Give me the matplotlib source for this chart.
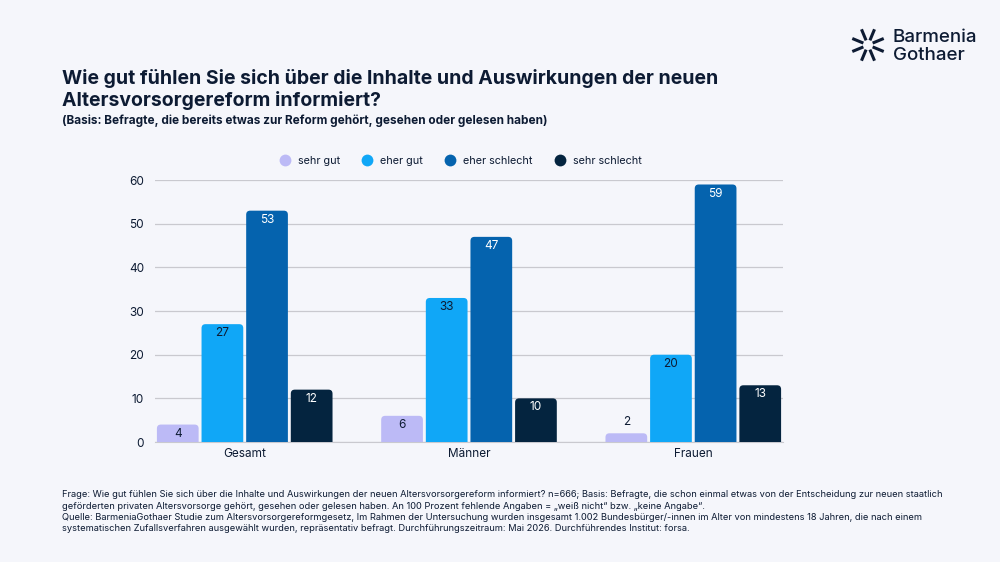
import matplotlib.pyplot as plt
import numpy as np
from matplotlib.patches import FancyBboxPatch
from matplotlib.lines import Line2D

plt.rcParams['font.family'] = ['Inter', 'DejaVu Sans']

groups = ["Gesamt", "Männer", "Frauen"]
series = ["sehr gut", "eher gut", "eher schlecht", "sehr schlecht"]
sehr_gut = [4, 6, 2]
eher_gut = [27, 33, 20]
eher_schlecht = [53, 47, 59]
sehr_schlecht = [12, 10, 13]
y_ticks = [0, 10, 20, 30, 40, 50, 60]

title = "Wie gut fühlen Sie sich über die Inhalte und Auswirkungen der neuen\nAltersvorsorgereform informiert?"
subtitle = "(Basis: Befragte, die bereits etwas zur Reform gehört, gesehen oder gelesen haben)"
footnote = ("Frage: Wie gut fühlen Sie sich über die Inhalte und Auswirkungen der neuen Altersvorsorgereform informiert? n=666; "
            "Basis: Befragte, die schon einmal etwas von der Entscheidung zur neuen staatlich\n"
            "geförderten privaten Altersvorsorge gehört, gesehen oder gelesen haben. An 100 Prozent fehlende Angaben = "
            "„weiß nicht“ bzw. „keine Angabe“.\n"
            "Quelle: BarmeniaGothaer Studie zum Altersvorsorgereformgesetz, Im Rahmen der Untersuchung wurden insgesamt "
            "1.002 Bundesbürger/-innen im Alter von mindestens 18 Jahren, die nach einem\n"
            "systematischen Zufallsverfahren ausgewählt wurden, repräsentativ befragt. Durchführungszeitraum: Mai 2026. "
            "Durchführendes Institut: forsa.")

colors = ["#bcbaf6", "#10a7f7", "#0563ae", "#04243f"]
text_colors = ["#0d1b33", "#0d1b33", "white", "white"]
navy = "#0d1b33"
bg = "#f5f6fb"

fig = plt.figure(figsize=(10, 5.62), dpi=100, facecolor=bg)
ax = fig.add_axes([0.155, 0.2135, 0.628, 0.466], facecolor=bg)

x = np.arange(len(groups))
step = 0.199
width = 0.186
offsets = (np.arange(4) - 1.5) * step

# px per data unit (approx) for rounded corners
px_x = 628 / 2.8
px_y = 262 / 60.0
r = 4.0 / px_x
aspect = px_x / px_y

all_vals = [sehr_gut, eher_gut, eher_schlecht, sehr_schlecht]
for i, vals in enumerate(all_vals):
    for j, v in enumerate(vals):
        x0 = x[j] + offsets[i] - width / 2
        patch = FancyBboxPatch((x0, -3), width, v + 3,
                               boxstyle="round,pad=0,rounding_size=%f" % r,
                               mutation_aspect=aspect,
                               facecolor=colors[i], edgecolor="none", zorder=3)
        ax.add_patch(patch)
        if v >= 4:
            ax.annotate(str(v), (x[j] + offsets[i], v), xytext=(0, -6.5),
                        textcoords="offset points", ha="center", va="center",
                        fontsize=8.5, color=text_colors[i], zorder=4)
        else:
            ax.annotate(str(v), (x[j] + offsets[i], v), xytext=(0, 8),
                        textcoords="offset points", ha="center", va="center",
                        fontsize=8.5, color=navy, zorder=4)

ax.set_xlim(-0.4, 2.4)
ax.set_ylim(0, 60)
ax.set_yticks(y_ticks)
ax.set_xticks(x)
ax.set_xticklabels(groups)
ax.grid(axis="y", color="#c9c9cf", linewidth=0.9, zorder=0)
for s in ["top", "right", "left"]:
    ax.spines[s].set_visible(False)
ax.spines["bottom"].set_color("#c9c9cf")
ax.tick_params(axis="both", length=0, labelsize=8.5, colors=navy, pad=4)
ax.tick_params(axis="y", pad=8)

handles = [Line2D([], [], marker="o", linestyle="none", markersize=8.5,
                  markerfacecolor=c, markeredgecolor="none") for c in colors]
fig.legend(handles, series, loc="center", bbox_to_anchor=(0.458, 0.714), ncol=4,
           frameon=False, fontsize=7.8, handletextpad=0.2, columnspacing=1.5,
           labelcolor=navy)

fig.text(0.062, 0.878, title, fontsize=14, fontweight="bold", color=navy,
         va="top", ha="left", linespacing=1.2)
fig.text(0.062, 0.786, subtitle, fontsize=8.5, fontweight="bold", color=navy,
         va="center", ha="left")
fig.text(0.062, 0.128, footnote, fontsize=6.7, color=navy, va="top", ha="left",
         linespacing=1.35)

# logo
cx, cy = 0.868, 1 - 45 / 562
for ang in np.arange(0, 360, 45) + 22.5:
    a = np.deg2rad(ang)
    r0, r1 = 5, 17
    fig.add_artist(Line2D([cx + r0 * np.cos(a) / 1000, cx + r1 * np.cos(a) / 1000],
                          [cy + r0 * np.sin(a) / 562, cy + r1 * np.sin(a) / 562],
                          color=navy, linewidth=2.2, solid_capstyle="butt"))
fig.text(0.893, 1 - 37 / 562, "Barmenia", fontsize=13.5, fontweight="medium",
         color=navy, va="center", ha="left")
fig.text(0.893, 1 - 55 / 562, "Gothaer", fontsize=13.5, fontweight="medium",
         color=navy, va="center", ha="left")

fig.savefig("out.png", dpi=100, facecolor=bg)
